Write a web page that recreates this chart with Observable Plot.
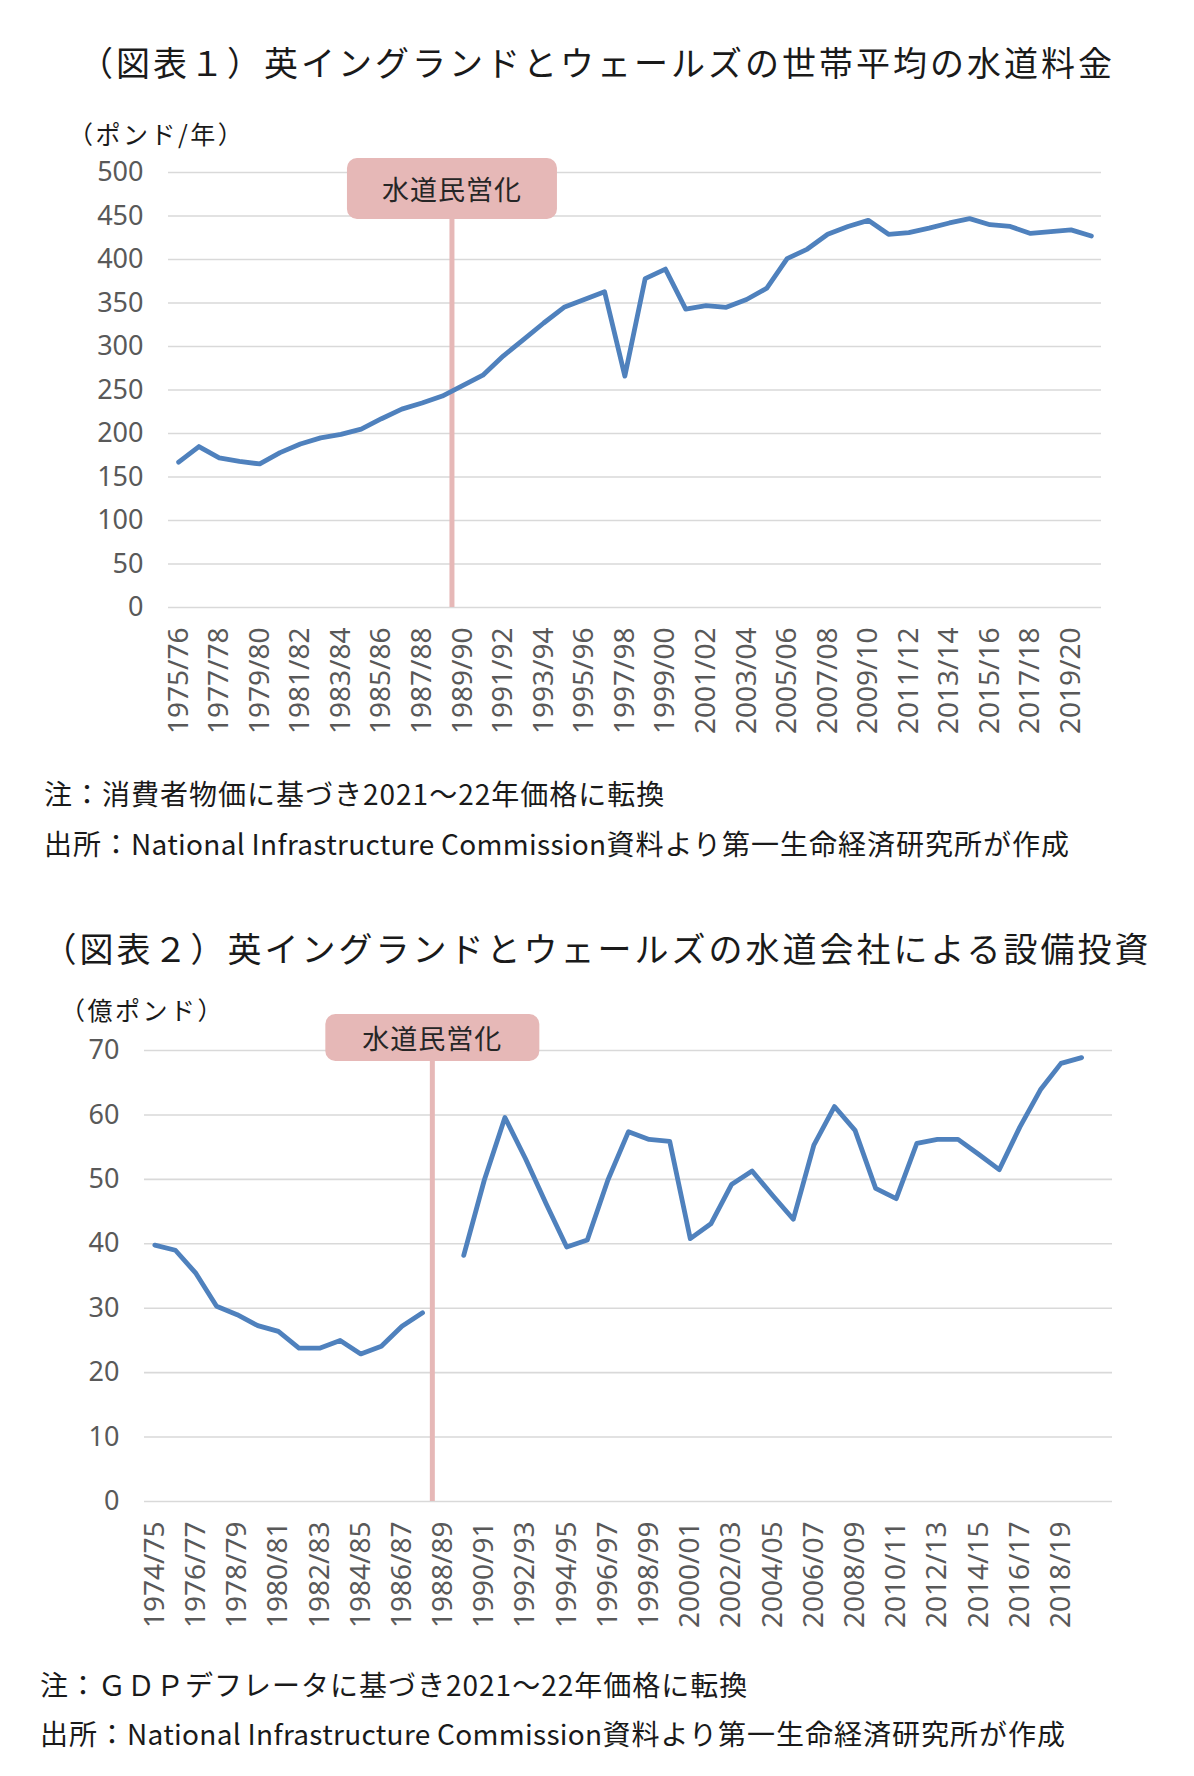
<!DOCTYPE html>
<html lang="ja">
<head>
<meta charset="utf-8">
<script src="https://cdn.jsdelivr.net/npm/d3@7"></script>
<script src="https://cdn.jsdelivr.net/npm/@observablehq/plot@0.6"></script>
<style>
  html, body { margin: 0; padding: 0; background: #fff; }
  #page { position: relative; width: 1194px; height: 1776px; overflow: hidden; font-family: "Noto Sans CJK JP", "Noto Sans", sans-serif; color: #1a1a1a; }
  .title { position: absolute; left: 0; width: 1194px; text-align: center; font-size: 34px; line-height: 34px; letter-spacing: 3px; white-space: nowrap; }
  .unit { position: absolute; font-size: 25px; line-height: 25px; letter-spacing: 2.5px; white-space: nowrap; color: #1a1a1a; }
  .note { position: absolute; font-size: 28px; line-height: 28px; letter-spacing: 1px; white-space: nowrap; color: #1a1a1a; }
  .note .latin { letter-spacing: 0.3px; }
  .chart { position: absolute; left: 0; }
</style>
</head>
<body>
<div id="page">
  <div class="title" style="top:45px">（図表１）英イングランドとウェールズの世帯平均の水道料金</div>
  <div class="unit" style="top:121px; left:68px">（ポンド/年）</div>
  <div class="chart" id="chart1" style="top:140px"></div>
  <div class="note" style="top:779px; left:44px">注：消費者物価に基づき2021～22年価格に転換</div>
  <div class="note" style="top:829px; left:44px">出所：<span class="latin">National Infrastructure Commission</span>資料より第一生命経済研究所が作成</div>

  <div class="title" style="top:931px">（図表２）英イングランドとウェールズの水道会社による設備投資</div>
  <div class="unit" style="top:997px; left:60px">（億ポンド）</div>
  <div class="chart" id="chart2" style="top:1000px"></div>
  <div class="note" style="top:1670px; left:40px">注：ＧＤＰデフレータに基づき2021～22年価格に転換</div>
  <div class="note" style="top:1719px; left:40px">出所：<span class="latin">National Infrastructure Commission</span>資料より第一生命経済研究所が作成</div>
</div>
<script>
// ---------- Chart 1: average household water bill (£/year) ----------
const years1 = [
  "1975/76","1976/77","1977/78","1978/79","1979/80","1980/81","1981/82","1982/83","1983/84","1984/85",
  "1985/86","1986/87","1987/88","1988/89","1989/90","1990/91","1991/92","1992/93","1993/94","1994/95",
  "1995/96","1996/97","1997/98","1998/99","1999/00","2000/01","2001/02","2002/03","2003/04","2004/05",
  "2005/06","2006/07","2007/08","2008/09","2009/10","2010/11","2011/12","2012/13","2013/14","2014/15",
  "2015/16","2016/17","2017/18","2018/19","2019/20","2020/21"
];
const bills = [
  167,185,172,168,165,178,188,195,199,205,
  217,228,235,243,255,267,289,308,327,345,
  354,363,266,378,389,343,347,345,354,367,
  401,412,429,438,445,429,431,436,442,447,
  440,438,430,432,434,427
];
const yTicks1 = [0,50,100,150,200,250,300,350,400,450,500];
const xTicks1 = years1.filter((d, i) => i % 2 === 0);
const privatization1 = ["1988/89","1989/90"];

// ---------- Chart 2: capital investment by water companies (£100m) ----------
const years2 = [
  "1974/75","1975/76","1976/77","1977/78","1978/79","1979/80","1980/81","1981/82","1982/83","1983/84",
  "1984/85","1985/86","1986/87","1987/88","1988/89","1989/90","1990/91","1991/92","1992/93","1993/94",
  "1994/95","1995/96","1996/97","1997/98","1998/99","1999/00","2000/01","2001/02","2002/03","2003/04",
  "2004/05","2005/06","2006/07","2007/08","2008/09","2009/10","2010/11","2011/12","2012/13","2013/14",
  "2014/15","2015/16","2016/17","2017/18","2018/19","2019/20","2020/21"
];
const investment = [
  39.8,39.0,35.4,30.3,29.0,27.3,26.4,23.8,23.8,25.0,
  22.9,24.1,27.2,29.3,null,38.2,49.9,59.6,53.2,46.2,
  39.5,40.6,49.9,57.4,56.2,55.9,40.8,43.1,49.2,51.3,
  47.5,43.8,55.3,61.3,57.6,48.6,47.0,55.6,56.2,56.2,
  53.9,51.5,58.1,63.9,68.0,68.9,null
];
const yTicks2 = [0,10,20,30,40,50,60,70];
const xTicks2 = years2.filter((d, i) => i % 2 === 0 && i < years2.length - 1);
const privatization2 = ["1987/88","1988/89"];

const annotationLabel = "水道民営化";

const lineColor = "#4f81bd";
const pink = "#e6b8b7";
const gridColor = "#d9d9d9";

function privatizationMark(pair, label, box) {
  return (index, scales, values, dimensions) => {
    const x = (scales.x(pair[0]) + scales.x(pair[1])) / 2;
    const yBottom = scales.y(0);
    const boxTop = dimensions.marginTop - box.above;
    const g = d3.create("svg:g");
    g.append("line")
      .attr("x1", x).attr("x2", x)
      .attr("y1", yBottom).attr("y2", boxTop + box.h / 2)
      .attr("stroke", pink).attr("stroke-width", 5);
    g.append("rect")
      .attr("x", x - box.w / 2).attr("y", boxTop)
      .attr("width", box.w).attr("height", box.h)
      .attr("rx", 10).attr("ry", 10)
      .attr("fill", pink);
    g.append("text")
      .attr("x", x).attr("y", boxTop + box.h / 2)
      .attr("text-anchor", "middle")
      .attr("dominant-baseline", "central")
      .attr("font-family", "'Noto Sans CJK JP', sans-serif")
      .attr("font-size", 27)
      .attr("letter-spacing", 1)
      .attr("fill", "#262626")
      .text(label);
    return g.node();
  };
}

function makeChart({cats, vals, yTicks, yMax, xTicks, pair, height, margins, box}) {
  const data = cats.map((c, i) => ({cat: c, value: vals[i]}));
  return Plot.plot({
    width: 1194,
    height,
    marginTop: margins.top,
    marginBottom: margins.bottom,
    marginLeft: margins.left,
    marginRight: margins.right,
    style: {fontFamily: "'Noto Sans', sans-serif", fontSize: "27px", color: "#595959", background: "transparent"},
    x: {type: "point", domain: cats, padding: 0.5, round: false, label: null},
    y: {domain: [0, yMax], label: null},
    marks: [
      Plot.gridY(yTicks, {stroke: gridColor, strokeOpacity: 1, strokeWidth: 1.6}),
      Plot.axisY(yTicks, {tickSize: 0, tickPadding: 25, fontSize: 27, label: null}),
      Plot.axisX(xTicks, {tickSize: 0, tickPadding: 20, tickRotate: -90, fontSize: 28, label: null}),
      privatizationMark(pair, annotationLabel, box),
      Plot.lineY(data, {x: "cat", y: "value", stroke: lineColor, strokeWidth: 4.8, strokeLinejoin: "round", strokeLinecap: "round"})
    ]
  });
}

document.getElementById("chart1").appendChild(makeChart({
  cats: years1, vals: bills, yTicks: yTicks1, yMax: 500, xTicks: xTicks1, pair: privatization1,
  height: 610, margins: {top: 32, bottom: 143, left: 168, right: 93},
  box: {w: 210, h: 61, above: 14}
}));

document.getElementById("chart2").appendChild(makeChart({
  cats: years2, vals: investment, yTicks: yTicks2, yMax: 70, xTicks: xTicks2, pair: privatization2,
  height: 660, margins: {top: 50, bottom: 159, left: 144, right: 82},
  box: {w: 214, h: 47, above: 36}
}));
</script>
</body>
</html>
